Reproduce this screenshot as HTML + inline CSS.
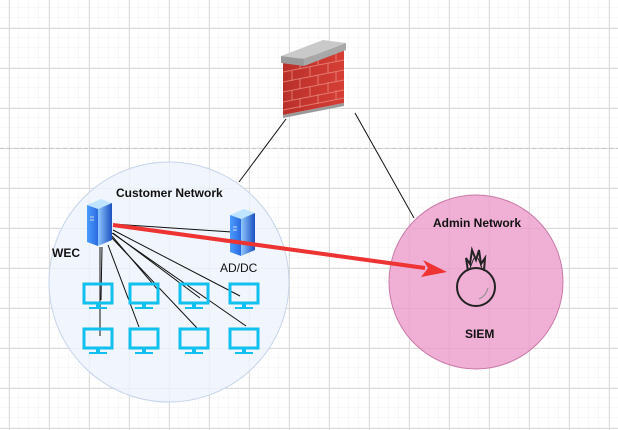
<!DOCTYPE html>
<html><head><style>
html,body{margin:0;padding:0;background:#fff;}
body{width:618px;height:430px;overflow:hidden;position:relative;font-family:"Liberation Sans",sans-serif;}
</style></head><body>
<svg width="618" height="430" xmlns="http://www.w3.org/2000/svg" style="position:absolute;left:0;top:0">
<defs>
<pattern id="minor" x="9" y="8" width="10" height="10" patternUnits="userSpaceOnUse"><path d="M10 0V10M0 10H10" stroke="#f2f2f2" stroke-width="1" fill="none"/></pattern>
<pattern id="major" x="9" y="28" width="40" height="40" patternUnits="userSpaceOnUse"><path d="M0.5 0V40M0 0.5H40" stroke="#dcdcdc" stroke-width="1" fill="none"/></pattern>
<linearGradient id="srv" x1="0" x2="1"><stop offset="0" stop-color="#8fc8ff"/><stop offset="1" stop-color="#1b4fc0"/></linearGradient>
<linearGradient id="srvs" x1="0" x2="1"><stop offset="0" stop-color="#4a9cff"/><stop offset="1" stop-color="#2b6ae0"/></linearGradient>
<linearGradient id="brick" x1="0" x2="1"><stop offset="0" stop-color="#b8302a"/><stop offset="1" stop-color="#d63e35"/></linearGradient>
<g id="mon"><rect x="-14" y="-11" width="28" height="19" fill="none" stroke="#10c0ee" stroke-width="3"/><rect x="-2" y="8" width="4" height="4" fill="#10c0ee"/><rect x="-9" y="12" width="18" height="2" fill="#10c0ee"/></g>
<g id="server"><path d="M0 6 L14 0 L25 4 L11 10Z" fill="#bfe4ff"/><path d="M0 6 L11 10 L11 47 L0 43Z" fill="url(#srvs)"/><path d="M11 10 L25 4 L25 41 L11 47Z" fill="url(#srv)"/><path d="M3 18h4M3 21h4" stroke="#cde" stroke-width="1"/></g>
</defs>
<rect width="618" height="430" fill="url(#minor)"/>
<rect width="618" height="430" fill="url(#major)"/>
<line x1="0" y1="148.5" x2="618" y2="148.5" stroke="#c8c8c8" stroke-dasharray="4,3"/>
<circle cx="169" cy="282" r="120" fill="#eef3fc" fill-opacity="0.8" stroke="#c6d4ea"/>
<circle cx="476" cy="282" r="87" fill="#ec9ccc" fill-opacity="0.8" stroke="#c97aa8"/>
<line x1="286" y1="119" x2="239" y2="182" stroke="#111"/>
<line x1="355" y1="113" x2="414" y2="218" stroke="#111"/>
<!-- firewall -->
<g>
<path d="M283 62 L344 49 L344 103 L283 115Z" fill="url(#brick)"/>
<g stroke="#e9857b" stroke-width="1" opacity="0.85" fill="none">
<path d="M283 72 L344 60 M283 82 L344 70 M283 92 L344 80 M283 102 L344 90 M283 110 L344 98"/>
<path d="M300 59v10M318 55v10M336 51v10M292 71v10M310 67v10M328 63v10M300 79v10M318 75v10M336 71v10M292 90v10M310 86v10M328 82v10M300 98v10M318 94v10M336 90v9"/>
</g>
<path d="M281 56 L323 40 L346 43 L304 59Z" fill="#c9c9c9"/>
<path d="M281 56 L304 59 L304 66 L281 63Z" fill="#9a9a9a"/>
<path d="M304 59 L346 43 L346 50 L304 66Z" fill="#a8a8a8"/>
<path d="M283 115 L344 103 L344 106 L283 118Z" fill="#9a9a9a"/>
</g>
<!-- WEC lines -->
<g stroke="#111" stroke-width="1">
<line x1="100" y1="247" x2="100" y2="336"/>
<line x1="102" y1="247" x2="101" y2="300"/>
<line x1="108" y1="245" x2="139" y2="327"/>
<line x1="111" y1="237" x2="197" y2="328"/>
<line x1="112" y1="233" x2="246" y2="326"/>
<line x1="112" y1="236" x2="158" y2="290"/>
<line x1="113" y1="233" x2="200" y2="298"/>
<line x1="113" y1="230" x2="240" y2="296"/>
<line x1="113" y1="224" x2="232" y2="232"/>
</g>
<use href="#server" x="87" y="199"/>
<use href="#server" x="230" y="209"/>
<g>
<use href="#mon" x="98" y="295"/><use href="#mon" x="144" y="295"/><use href="#mon" x="194" y="295"/><use href="#mon" x="244" y="295"/>
<use href="#mon" x="98" y="340"/><use href="#mon" x="144" y="340"/><use href="#mon" x="194" y="340"/><use href="#mon" x="244" y="340"/>
</g>
<line x1="113" y1="225" x2="425" y2="268" stroke="#ee3333" stroke-width="4"/>
<path d="M447 272 L423 260 L428 268 L421 277Z" fill="#ee3333"/>
<!-- SIEM icon -->
<g fill="none" stroke="#222" stroke-width="2">
<circle cx="476" cy="287" r="19"/>
<path d="M468 271 L466 258 L470 264 L472 250 L476 260 L479 250 L481 264 L485 258 L484 271"/>
<path d="M470 268 L474 258 M482 268 L478 258" stroke-width="1"/>
</g>
<path d="M479 299 Q486 296 488 288" stroke="#888" fill="none"/>
<g font-weight="bold" font-size="12" fill="#111">
<text x="116" y="197">Customer Network</text>
<text x="433" y="227">Admin Network</text>
<text x="465" y="338">SIEM</text>
<text x="52" y="257">WEC</text>
</g>
<text x="220" y="272" font-size="12" fill="#111">AD/DC</text>
</svg>
</body></html>
